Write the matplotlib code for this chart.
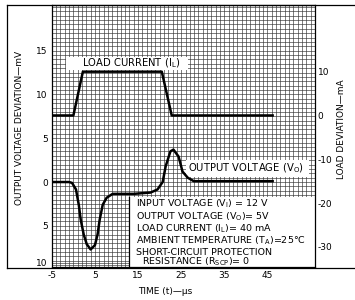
import numpy as np
import matplotlib
matplotlib.use("Agg")
import matplotlib.pyplot as plt
from matplotlib.patches import Rectangle
from matplotlib.lines import Line2D

plt.rcParams['axes.unicode_minus'] = False

# Ausgangsspannung (mV) ueber Zeit (us)
t_vo = [-5, -1, -0.3, 0.6, 1.25, 1.7, 2.4, 3.1, 4.0, 5.0, 5.6, 6.1, 6.8, 7.7, 9.1,
        14, 17.9, 19.5, 20.7, 21.4, 22.5, 23.2, 24.4, 25.3, 26.5, 27.9, 46.2]
vo = [0, 0, -0.1, -0.85, -2.6, -4.3, -6.0, -7.1, -7.7, -7.2, -6.0, -4.3, -2.6, -1.8, -1.35,
      -1.35, -1.2, -0.85, 0.0, 1.8, 3.5, 3.7, 2.9, 1.2, 0.5, 0.1, 0.1]

# Laststrom (mA)
t_il = [-5, 0, 2.2, 20.5, 22.8, 46.2]
il = [0, 0, 10, 10, 0, 0]

x_ticks = [-5, 5, 15, 25, 35, 45]
y_ticks = [-9.2, -5, 0, 5, 10, 15]
y_labels = ['10', '5', '0', '5', '10', '15']
y2_ticks = [10, 0, -10, -20, -30]

conditions = ['INPUT VOLTAGE (V$_\\mathregular{I}$) = 12 V',
              'OUTPUT VOLTAGE (V$_\\mathregular{O}$)= 5V',
              'LOAD CURRENT (I$_\\mathregular{L}$)= 40 mA',
              'AMBIENT TEMPERATURE (T$_\\mathregular{A}$)=25°C',
              'SHORT-CIRCUIT PROTECTION',
              '  RESISTANCE (R$_\\mathregular{SCP}$)= 0']

fs = 6.5
fs_txt = 7.2
fig = plt.figure(figsize=(3.55, 3.0), dpi=100)
ax = fig.add_axes([0.146, 0.11, 0.741, 0.873])
ax.set_xlim(-5, 56)
ax.set_ylim(-9.7, 20.2)
ax.set_xticks(x_ticks)
ax.set_xticks(np.arange(-5, 57, 1), minor=True)
ax.set_yticks(y_ticks)
ax.set_yticklabels(y_labels)
ax.set_yticks(np.arange(-9.5, 20.5, 0.5), minor=True)
ax.set_axisbelow(True)
ax.grid(which='both', color='#333333', lw=0.45)
ax.tick_params(which='both', length=0, labelsize=fs, pad=3)
for s in ax.spines.values():
    s.set_linewidth(0.9)

ax.plot(t_vo, vo, color='k', lw=1.8, zorder=4)

# weisse Felder
ax.add_patch(Rectangle((12.8, -9.7), 44, 7.94, facecolor='white', edgecolor='none', zorder=2))
ax.plot([12.8, 12.8], [-9.7, -1.76], color='k', lw=0.9, zorder=3)
ax.add_patch(Rectangle((26.0, 0.63), 28.6, 1.93, facecolor='white', edgecolor='none', zorder=2))
ax.add_patch(Rectangle((-1.8, 12.8), 28.3, 1.45, facecolor='white', edgecolor='none', zorder=2))

ax.text(26.5, 1.6, 'OUTPUT VOLTAGE (V$_\\mathregular{O}$)', fontsize=fs_txt, va='center', zorder=5)
ax.text(2.0, 13.55, 'LOAD CURRENT (I$_\\mathregular{L}$)', fontsize=fs_txt, va='center', zorder=5)

ys = [-2.5, -3.95, -5.3, -6.75, -8.0, -9.15]
for i, line in enumerate(conditions):
    ax.text(14.6, ys[i], line, fontsize=6.8, va='center', zorder=5)

ax2 = ax.twinx()
ax2.set_ylim(2 * (-9.7 - 7.6), 2 * (20.2 - 7.6))
ax2.set_yticks(y2_ticks)
ax2.tick_params(length=0, labelsize=fs, pad=2)
for s in ax2.spines.values():
    s.set_visible(False)
ax2.plot(t_il, il, color='k', lw=1.8)

fig.text(0.056, 0.573, 'OUTPUT VOLTAGE DEVIATION—mV', rotation=90, fontsize=fs,
         ha='center', va='center')
fig.text(0.962, 0.57, 'LOAD DEVIATION—mA', rotation=90, fontsize=fs,
         ha='center', va='center')
fig.text(0.465, 0.027, 'TIME (t)—µs', fontsize=fs, ha='center', va='center')

# Rahmen
fig.add_artist(Line2D([0.02, 0.02], [0.108, 0.983], color='k', lw=0.9))
fig.add_artist(Line2D([0.02, 1.0], [0.983, 0.983], color='k', lw=0.9))
fig.add_artist(Line2D([0.02, 1.0], [0.108, 0.108], color='k', lw=0.9))

fig.savefig('out.png', dpi=100)
